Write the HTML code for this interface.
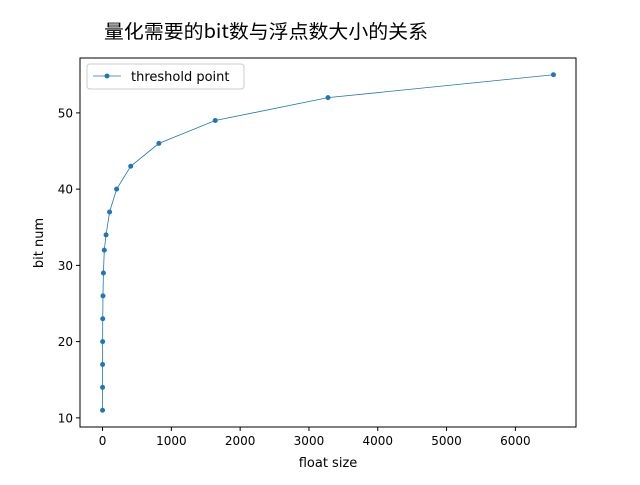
<!DOCTYPE html>
<html><head><meta charset="utf-8"><style>
body{margin:0;background:#fff}
svg text{font-family:"DejaVu Sans","Liberation Sans","Noto Sans CJK SC",sans-serif;fill:#000}
</style></head><body>
<svg id="chart" width="640" height="480" xmlns="http://www.w3.org/2000/svg">
<rect width="640" height="480" fill="#fff"/>
<text x="104" y="38" font-size="19" textLength="324" lengthAdjust="spacingAndGlyphs" style='font-family:"Noto Sans CJK SC",sans-serif'>量化需要的bit数与浮点数大小的关系</text>
<g id="ticks"></g>
<polyline id="line" fill="none" stroke="#1f77b4" stroke-width="0.8"/>
<g id="pts"></g>
<rect x="80" y="58" width="496" height="369" fill="none" stroke="#000" stroke-width="1"/>
<text x="328" y="467" font-size="13" text-anchor="middle">float size</text>
<text transform="translate(43,243) rotate(-90)" font-size="13" text-anchor="middle">bit num</text>
<g>
<rect x="87" y="64" width="157" height="25" rx="3" fill="#fff" stroke="#ccc"/>
<line x1="93" y1="76" x2="121" y2="76" stroke="#1f77b4" stroke-width="0.8"/>
<circle cx="107" cy="76" r="2.5" fill="#1f77b4"/>
<text x="131" y="81" font-size="13">threshold point</text>
</g>
</svg>
<script>
const xValues=[0.2,0.4,0.8,1.6,3.2,6.4,12.8,25.6,51.2,102.4,204.8,409.6,819.2,1638.4,3276.8,6553.6];
const yValues=[11,14,17,20,23,26,29,32,34,37,40,43,46,49,52,55];
const xTicks=[0,1000,2000,3000,4000,5000,6000];
const yTicks=[10,20,30,40,50];
const NS="http://www.w3.org/2000/svg";
const L=80,R=576,T=58,B=427;
const xmn=Math.min(...xValues),xmx=Math.max(...xValues),xp=(xmx-xmn)*0.05;
const ymn=Math.min(...yValues),ymx=Math.max(...yValues),yp=(ymx-ymn)*0.05;
const sx=v=>L+(v-(xmn-xp))/((xmx+xp)-(xmn-xp))*(R-L);
const sy=v=>B-(v-(ymn-yp))/((ymx+yp)-(ymn-yp))*(B-T);
const tg=document.getElementById('ticks');
function mk(t,a){const e=document.createElementNS(NS,t);for(const k in a)e.setAttribute(k,a[k]);return e;}
xTicks.forEach(v=>{const x=sx(v);
const l=mk('line',{x1:x,x2:x,y1:B,y2:B+4,stroke:'#000'});

tg.appendChild(l);
const t=mk('text',{x:x,y:B+18,'font-size':12,'text-anchor':'middle'});t.textContent=v;

tg.appendChild(t);});
yTicks.forEach(v=>{const y=sy(v);
const l=mk('line',{x1:L-4,x2:L,y1:y,y2:y,stroke:'#000'});

tg.appendChild(l);
const t=mk('text',{x:L-7,y:y+4.5,'font-size':12,'text-anchor':'end'});t.textContent=v;

tg.appendChild(t);});
document.getElementById('line').setAttribute('points',xValues.map((v,i)=>sx(v)+','+sy(yValues[i])).join(' '));
const pg=document.getElementById('pts');
xValues.forEach((v,i)=>{const c=mk('circle',{cx:sx(v),cy:sy(yValues[i]),r:2.5,fill:'#1f77b4'});

pg.appendChild(c);});
</script>
</body></html>
